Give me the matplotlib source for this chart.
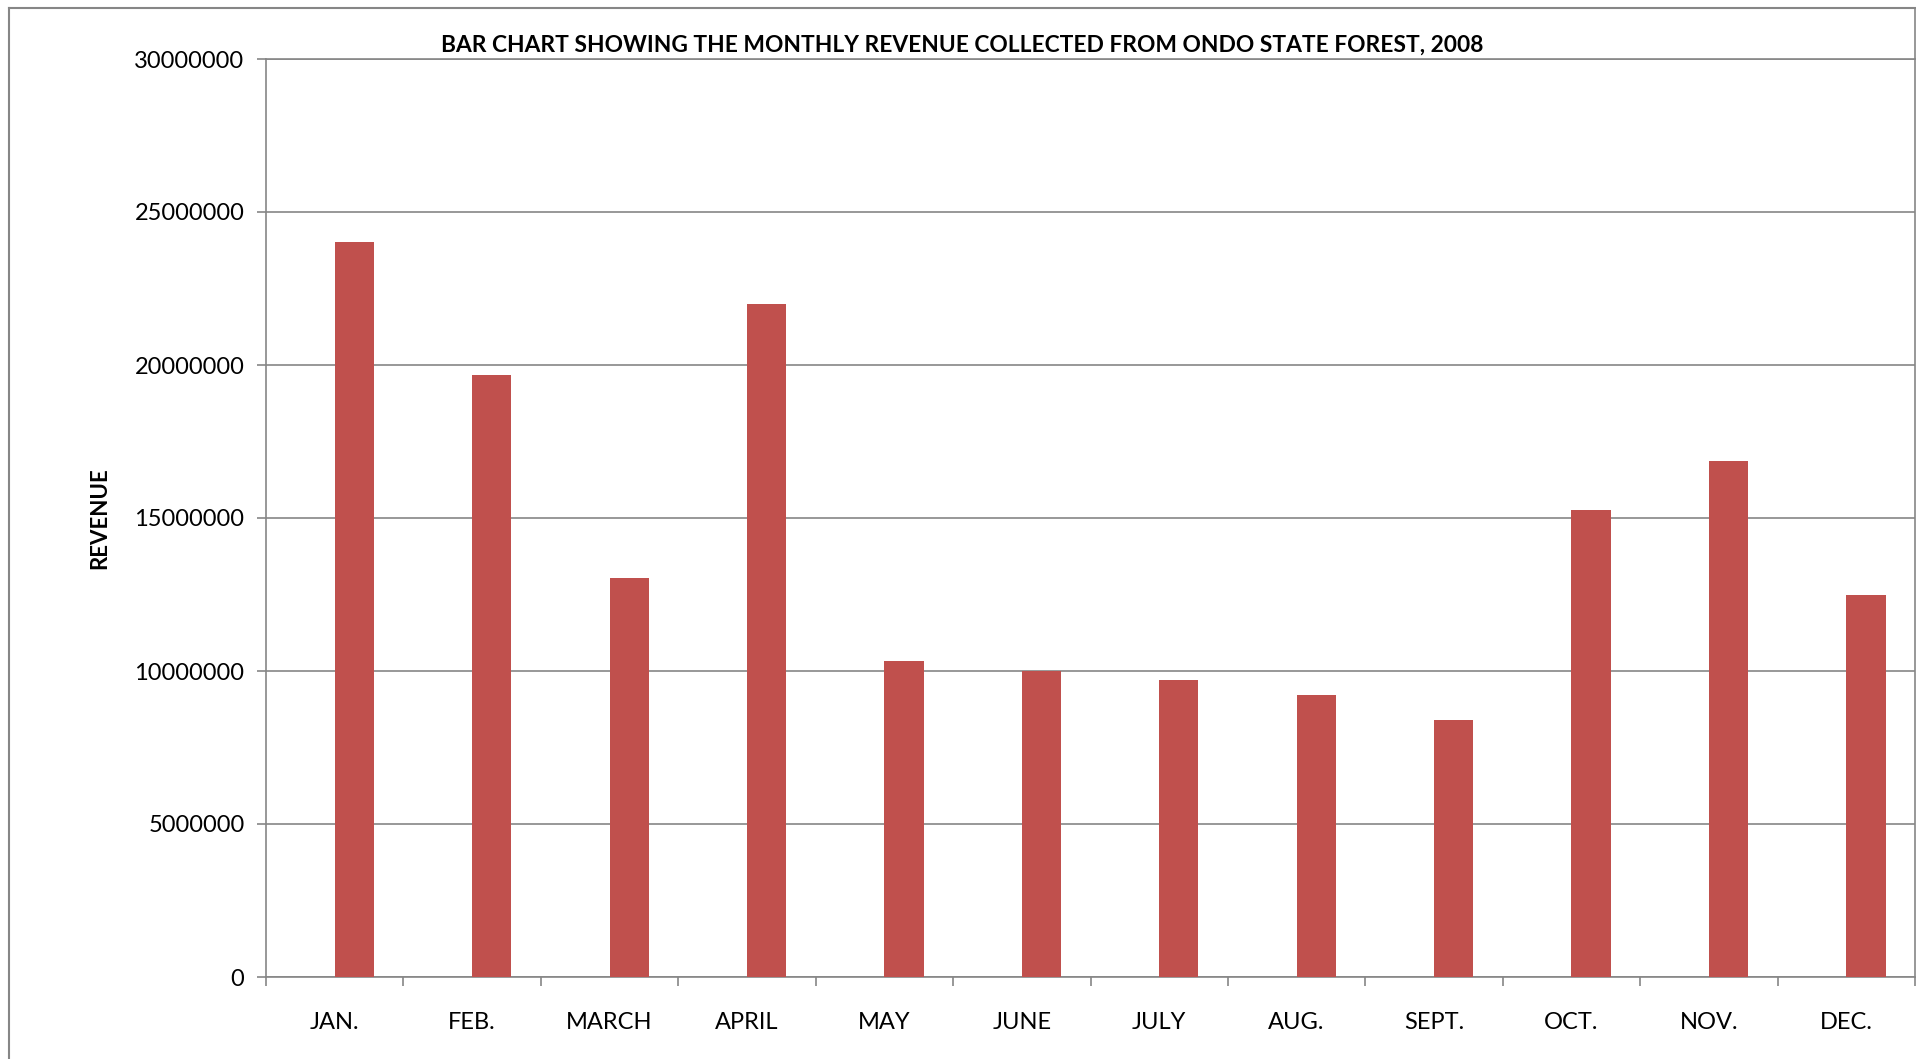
import matplotlib
matplotlib.use('Agg')
import matplotlib.pyplot as plt
from matplotlib.lines import Line2D
import numpy as np

# data
months = ['JAN.', 'FEB.', 'MARCH', 'APRIL', 'MAY', 'JUNE',
          'JULY', 'AUG.', 'SEPT.', 'OCT.', 'NOV.', 'DEC.']
revenue = [24020000, 19660000, 13050000, 21980000, 10330000, 9990000,
           9700000, 9220000, 8390000, 15270000, 16850000, 12500000]
y_ticks = [0, 5000000, 10000000, 15000000, 20000000, 25000000, 30000000]

TITLE = 'BAR CHART SHOWING THE MONTHLY REVENUE COLLECTED FROM ONDO STATE FOREST, 2008'
BAR_COLOR = '#C0504D'
LINE_COLOR = '#868686'

plt.rcParams['font.family'] = ['Lato', 'DejaVu Sans']

W, H = 1916, 1059
fig = plt.figure(figsize=(W / 100, H / 100), dpi=100)
fig.patch.set_facecolor('white')

# plot area in pixel terms
left, right, top, bottom = 266, 1915, 59, 977
ax = fig.add_axes([left / W, (H - bottom) / H, (right - left) / W, (bottom - top) / H])

x = np.arange(len(months))
bar_w = 1 / 3.5  # excel: second series slot, gap width 150%
ax.bar(x + bar_w / 2, revenue, width=bar_w, color=BAR_COLOR, zorder=3)

ax.set_xlim(-0.5, len(months) - 0.5)
ax.set_ylim(0, 30000000)

ax.set_yticks(y_ticks)
ax.set_yticklabels([str(v) for v in y_ticks])
ax.yaxis.grid(True, color=LINE_COLOR, lw=1.2, zorder=1)
ax.set_axisbelow(True)

# tick marks between categories, labels at category centres
ax.set_xticks(np.arange(-0.5, len(months), 1))
ax.set_xticklabels([])
ax.set_xticks(x, minor=True)
ax.set_xticklabels(months, minor=True)

ax.tick_params(axis='x', which='major', length=6.5, width=1.2, color=LINE_COLOR)
ax.tick_params(axis='x', which='minor', length=0, pad=25.5, labelsize=17)
ax.tick_params(axis='y', length=6.5, width=1.2, color=LINE_COLOR, pad=9, labelsize=17)

for s in ax.spines.values():
    s.set_color(LINE_COLOR)
    s.set_linewidth(1.2)

# outer chart frame (cropped at the bottom in the reference)
fx0, fy0 = 8.5 / W, 1 - 7.5 / H
fx1 = right / W
fig.add_artist(Line2D([fx0, fx0], [0, fy0], transform=fig.transFigure, color=LINE_COLOR, lw=1.5))
fig.add_artist(Line2D([fx0, fx1], [fy0, fy0], transform=fig.transFigure, color=LINE_COLOR, lw=1.5))
fig.add_artist(Line2D([fx1, fx1], [fy0, 1 - top / H], transform=fig.transFigure, color=LINE_COLOR, lw=1.2))

fig.text(962 / W, 1 - 45 / H, TITLE, ha='center', va='center', fontsize=16.4, fontweight='bold')
fig.text(100 / W, 1 - 518 / H, 'REVENUE', rotation=90, ha='center', va='center',
         fontsize=16, fontweight='bold')

fig.savefig('out.png', dpi=100)
